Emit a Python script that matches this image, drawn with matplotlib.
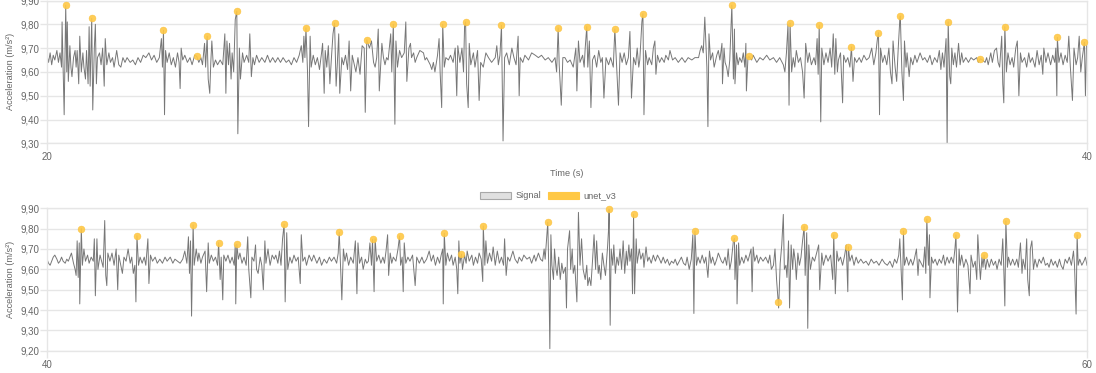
import matplotlib.pyplot as plt
from matplotlib.patches import Patch
from matplotlib.ticker import FuncFormatter, FixedLocator

plt.rcParams['font.family'] = ['Liberation Sans', 'DejaVu Sans']

# signal samples, (time s, acceleration m/s²)
top_signal = [
    (20.00, 9.67), (20.03, 9.64), (20.06, 9.68), (20.09, 9.63), (20.12, 9.67), (20.15, 9.65),
    (20.19, 9.69), (20.22, 9.64), (20.25, 9.68), (20.28, 9.62), (20.29, 9.81), (20.31, 9.62),
    (20.33, 9.42), (20.36, 9.88), (20.38, 9.60), (20.39, 9.81), (20.41, 9.56), (20.44, 9.71),
    (20.46, 9.62), (20.48, 9.58), (20.51, 9.66), (20.54, 9.69), (20.56, 9.62), (20.58, 9.69),
    (20.61, 9.55), (20.63, 9.75), (20.66, 9.60), (20.69, 9.68), (20.71, 9.62), (20.74, 9.57),
    (20.76, 9.69), (20.79, 9.55), (20.81, 9.79), (20.83, 9.54), (20.86, 9.825), (20.88, 9.44),
    (20.91, 9.70), (20.93, 9.80), (20.95, 9.55), (20.97, 9.66), (21.01, 9.68), (21.04, 9.63),
    (21.07, 9.70), (21.10, 9.54), (21.12, 9.74), (21.15, 9.63), (21.19, 9.68), (21.22, 9.64),
    (21.26, 9.66), (21.29, 9.62), (21.34, 9.69), (21.38, 9.63), (21.42, 9.62), (21.46, 9.66),
    (21.50, 9.64), (21.54, 9.66), (21.60, 9.64), (21.65, 9.65), (21.70, 9.63), (21.75, 9.66),
    (21.80, 9.64), (21.85, 9.67), (21.90, 9.66), (21.96, 9.68), (22.01, 9.65), (22.06, 9.67),
    (22.11, 9.64), (22.16, 9.66), (22.20, 9.74), (22.22, 9.62), (22.24, 9.775), (22.26, 9.42),
    (22.28, 9.69), (22.31, 9.64), (22.35, 9.68), (22.39, 9.63), (22.43, 9.66), (22.47, 9.62),
    (22.51, 9.68), (22.54, 9.64), (22.56, 9.53), (22.58, 9.70), (22.61, 9.65), (22.65, 9.67),
    (22.70, 9.64), (22.75, 9.66), (22.79, 9.63), (22.84, 9.67), (22.88, 9.665), (22.92, 9.64),
    (22.96, 9.66), (22.99, 9.63), (23.03, 9.72), (23.05, 9.62), (23.08, 9.75), (23.10, 9.57),
    (23.13, 9.51), (23.15, 9.64), (23.17, 9.73), (23.20, 9.62), (23.24, 9.65), (23.28, 9.63),
    (23.33, 9.65), (23.38, 9.63), (23.42, 9.76), (23.44, 9.51), (23.46, 9.73), (23.49, 9.63),
    (23.51, 9.72), (23.54, 9.57), (23.56, 9.68), (23.59, 9.60), (23.62, 9.82), (23.65, 9.855),
    (23.67, 9.34), (23.70, 9.70), (23.72, 9.57), (23.76, 9.68), (23.79, 9.64), (23.84, 9.67),
    (23.88, 9.64), (23.90, 9.76), (23.93, 9.58), (23.96, 9.66), (23.99, 9.63), (24.03, 9.67),
    (24.08, 9.64), (24.13, 9.66), (24.19, 9.64), (24.24, 9.67), (24.29, 9.64), (24.34, 9.66),
    (24.39, 9.64), (24.44, 9.66), (24.49, 9.64), (24.54, 9.66), (24.60, 9.64), (24.65, 9.65),
    (24.70, 9.63), (24.75, 9.66), (24.80, 9.64), (24.85, 9.67), (24.89, 9.71), (24.92, 9.64),
    (24.94, 9.75), (24.96, 9.66), (24.98, 9.785), (25.01, 9.60), (25.03, 9.37), (25.06, 9.75),
    (25.08, 9.62), (25.12, 9.67), (25.16, 9.63), (25.20, 9.66), (25.24, 9.61), (25.28, 9.68),
    (25.30, 9.72), (25.33, 9.51), (25.35, 9.69), (25.38, 9.62), (25.41, 9.71), (25.44, 9.55),
    (25.47, 9.66), (25.50, 9.76), (25.53, 9.805), (25.56, 9.54), (25.58, 9.62), (25.61, 9.76),
    (25.63, 9.51), (25.67, 9.66), (25.70, 9.63), (25.74, 9.67), (25.78, 9.61), (25.81, 9.73),
    (25.84, 9.52), (25.87, 9.67), (25.91, 9.63), (25.94, 9.60), (25.98, 9.66), (26.02, 9.59),
    (26.06, 9.71), (26.10, 9.70), (26.12, 9.43), (26.15, 9.735), (26.20, 9.70), (26.24, 9.73),
    (26.28, 9.64), (26.31, 9.62), (26.34, 9.66), (26.37, 9.78), (26.39, 9.52), (26.42, 9.64),
    (26.44, 9.72), (26.47, 9.66), (26.50, 9.63), (26.53, 9.66), (26.56, 9.65), (26.61, 9.76),
    (26.63, 9.60), (26.66, 9.80), (26.69, 9.38), (26.71, 9.73), (26.74, 9.62), (26.78, 9.69),
    (26.82, 9.66), (26.87, 9.68), (26.90, 9.81), (26.92, 9.56), (26.96, 9.70), (26.99, 9.72),
    (27.01, 9.66), (27.05, 9.68), (27.08, 9.64), (27.11, 9.66), (27.17, 9.69), (27.24, 9.68),
    (27.27, 9.65), (27.30, 9.66), (27.37, 9.63), (27.40, 9.61), (27.43, 9.64), (27.46, 9.60),
    (27.51, 9.67), (27.54, 9.74), (27.56, 9.60), (27.59, 9.45), (27.61, 9.80), (27.64, 9.62),
    (27.67, 9.66), (27.72, 9.65), (27.76, 9.67), (27.81, 9.64), (27.85, 9.70), (27.88, 9.50),
    (27.90, 9.71), (27.94, 9.64), (27.98, 9.70), (28.01, 9.60), (28.03, 9.79), (28.05, 9.81),
    (28.07, 9.55), (28.10, 9.45), (28.12, 9.72), (28.15, 9.63), (28.20, 9.68), (28.23, 9.62),
    (28.28, 9.69), (28.31, 9.48), (28.34, 9.64), (28.39, 9.62), (28.44, 9.68), (28.49, 9.66),
    (28.55, 9.64), (28.62, 9.66), (28.65, 9.71), (28.68, 9.63), (28.71, 9.67), (28.74, 9.795),
    (28.77, 9.31), (28.80, 9.66), (28.84, 9.68), (28.89, 9.63), (28.94, 9.70), (28.98, 9.66),
    (29.02, 9.63), (29.06, 9.75), (29.08, 9.50), (29.10, 9.66), (29.15, 9.64), (29.19, 9.67),
    (29.26, 9.65), (29.32, 9.68), (29.39, 9.67), (29.45, 9.66), (29.51, 9.67), (29.58, 9.65),
    (29.64, 9.66), (29.71, 9.64), (29.77, 9.66), (29.80, 9.60), (29.83, 9.785), (29.85, 9.63),
    (29.89, 9.46), (29.92, 9.66), (29.96, 9.66), (30.01, 9.64), (30.06, 9.65), (30.12, 9.62),
    (30.17, 9.70), (30.19, 9.52), (30.22, 9.73), (30.25, 9.64), (30.30, 9.67), (30.33, 9.62),
    (30.35, 9.70), (30.38, 9.79), (30.40, 9.62), (30.43, 9.73), (30.46, 9.45), (30.49, 9.65),
    (30.53, 9.67), (30.57, 9.62), (30.61, 9.69), (30.65, 9.64), (30.68, 9.66), (30.71, 9.49),
    (30.75, 9.66), (30.80, 9.63), (30.84, 9.66), (30.89, 9.62), (30.92, 9.78), (30.96, 9.60),
    (30.99, 9.46), (31.02, 9.68), (31.06, 9.64), (31.10, 9.68), (31.14, 9.63), (31.18, 9.66),
    (31.21, 9.77), (31.24, 9.49), (31.28, 9.66), (31.32, 9.63), (31.35, 9.70), (31.38, 9.62),
    (31.40, 9.65), (31.44, 9.81), (31.46, 9.845), (31.48, 9.42), (31.51, 9.69), (31.55, 9.63),
    (31.58, 9.66), (31.63, 9.63), (31.66, 9.70), (31.69, 9.73), (31.71, 9.59), (31.74, 9.67),
    (31.78, 9.64), (31.82, 9.66), (31.87, 9.64), (31.90, 9.67), (31.95, 9.65), (31.98, 9.69),
    (32.03, 9.65), (32.08, 9.66), (32.14, 9.64), (32.21, 9.66), (32.27, 9.64), (32.33, 9.66),
    (32.40, 9.65), (32.46, 9.66), (32.53, 9.66), (32.56, 9.69), (32.59, 9.71), (32.62, 9.68),
    (32.65, 9.83), (32.69, 9.62), (32.71, 9.37), (32.73, 9.76), (32.76, 9.65), (32.80, 9.68),
    (32.83, 9.62), (32.88, 9.67), (32.91, 9.69), (32.94, 9.65), (32.98, 9.72), (32.99, 9.55),
    (33.02, 9.70), (33.04, 9.64), (33.07, 9.62), (33.10, 9.58), (33.13, 9.65), (33.17, 9.88),
    (33.20, 9.57), (33.22, 9.78), (33.23, 9.55), (33.26, 9.68), (33.29, 9.63), (33.32, 9.66),
    (33.36, 9.64), (33.39, 9.68), (33.42, 9.62), (33.44, 9.72), (33.45, 9.52), (33.48, 9.66),
    (33.50, 9.665), (33.55, 9.65), (33.58, 9.67), (33.65, 9.64), (33.71, 9.66), (33.77, 9.65),
    (33.84, 9.67), (33.90, 9.65), (33.97, 9.66), (34.03, 9.64), (34.09, 9.66), (34.16, 9.63),
    (34.19, 9.60), (34.22, 9.68), (34.25, 9.80), (34.27, 9.46), (34.29, 9.805), (34.32, 9.60),
    (34.35, 9.66), (34.38, 9.62), (34.41, 9.69), (34.45, 9.64), (34.49, 9.66), (34.53, 9.60),
    (34.56, 9.49), (34.59, 9.72), (34.63, 9.64), (34.66, 9.68), (34.70, 9.63), (34.75, 9.66),
    (34.78, 9.63), (34.81, 9.74), (34.83, 9.59), (34.85, 9.795), (34.88, 9.39), (34.90, 9.70),
    (34.94, 9.63), (34.98, 9.68), (35.02, 9.64), (35.06, 9.70), (35.09, 9.62), (35.12, 9.76),
    (35.15, 9.59), (35.17, 9.74), (35.20, 9.60), (35.22, 9.65), (35.26, 9.68), (35.30, 9.47),
    (35.32, 9.67), (35.36, 9.64), (35.40, 9.66), (35.44, 9.62), (35.47, 9.705), (35.50, 9.56),
    (35.53, 9.66), (35.57, 9.64), (35.62, 9.66), (35.66, 9.64), (35.71, 9.67), (35.76, 9.65),
    (35.81, 9.66), (35.86, 9.70), (35.90, 9.63), (35.94, 9.68), (35.97, 9.74), (35.99, 9.765),
    (36.01, 9.42), (36.03, 9.70), (36.07, 9.64), (36.11, 9.67), (36.15, 9.63), (36.19, 9.70),
    (36.22, 9.60), (36.25, 9.55), (36.27, 9.73), (36.31, 9.62), (36.34, 9.56), (36.37, 9.70),
    (36.40, 9.82), (36.41, 9.835), (36.44, 9.60), (36.47, 9.48), (36.49, 9.73), (36.52, 9.62),
    (36.54, 9.68), (36.58, 9.58), (36.61, 9.66), (36.65, 9.63), (36.69, 9.67), (36.73, 9.64),
    (36.79, 9.68), (36.84, 9.65), (36.88, 9.66), (36.93, 9.64), (36.98, 9.67), (37.02, 9.63),
    (37.07, 9.66), (37.12, 9.64), (37.16, 9.69), (37.19, 9.61), (37.22, 9.68), (37.25, 9.62),
    (37.29, 9.74), (37.31, 9.30), (37.33, 9.81), (37.36, 9.58), (37.38, 9.55), (37.40, 9.70),
    (37.43, 9.63), (37.46, 9.68), (37.49, 9.62), (37.53, 9.72), (37.56, 9.63), (37.59, 9.68),
    (37.62, 9.64), (37.67, 9.66), (37.72, 9.64), (37.77, 9.66), (37.82, 9.65), (37.88, 9.66),
    (37.91, 9.64), (37.95, 9.655), (37.99, 9.65), (38.04, 9.64), (38.07, 9.66), (38.10, 9.63),
    (38.15, 9.68), (38.18, 9.64), (38.22, 9.69), (38.26, 9.70), (38.29, 9.64), (38.32, 9.62),
    (38.36, 9.75), (38.38, 9.55), (38.40, 9.47), (38.42, 9.79), (38.45, 9.60), (38.48, 9.68),
    (38.52, 9.63), (38.56, 9.66), (38.59, 9.62), (38.63, 9.70), (38.66, 9.73), (38.69, 9.50),
    (38.72, 9.68), (38.75, 9.64), (38.80, 9.66), (38.84, 9.62), (38.88, 9.68), (38.91, 9.64),
    (38.95, 9.66), (39.00, 9.62), (39.04, 9.69), (39.08, 9.63), (39.12, 9.67), (39.15, 9.59),
    (39.17, 9.70), (39.21, 9.64), (39.25, 9.68), (39.30, 9.63), (39.34, 9.67), (39.38, 9.64),
    (39.40, 9.70), (39.42, 9.50), (39.43, 9.745), (39.46, 9.64), (39.50, 9.68), (39.54, 9.63),
    (39.58, 9.67), (39.62, 9.64), (39.65, 9.75), (39.68, 9.62), (39.72, 9.48), (39.75, 9.70),
    (39.79, 9.63), (39.82, 9.66), (39.85, 9.75), (39.88, 9.60), (39.91, 9.66), (39.95, 9.725),
    (39.97, 9.50), (39.99, 9.71),
]

bottom_signal = [
    (40.00, 9.65), (40.03, 9.63), (40.06, 9.62), (40.09, 9.64), (40.12, 9.66), (40.15, 9.67),
    (40.19, 9.65), (40.22, 9.63), (40.25, 9.64), (40.28, 9.66), (40.31, 9.64), (40.35, 9.63),
    (40.38, 9.65), (40.41, 9.64), (40.44, 9.66), (40.47, 9.68), (40.51, 9.63), (40.54, 9.60),
    (40.56, 9.57), (40.58, 9.74), (40.60, 9.56), (40.62, 9.73), (40.63, 9.43), (40.66, 9.80),
    (40.68, 9.62), (40.71, 9.70), (40.74, 9.64), (40.78, 9.67), (40.81, 9.63), (40.85, 9.66),
    (40.89, 9.64), (40.91, 9.75), (40.93, 9.47), (40.96, 9.75), (40.98, 9.60), (41.02, 9.67),
    (41.06, 9.63), (41.08, 9.61), (41.11, 9.84), (41.13, 9.57), (41.15, 9.52), (41.17, 9.68),
    (41.21, 9.64), (41.25, 9.68), (41.29, 9.62), (41.33, 9.70), (41.36, 9.50), (41.38, 9.67),
    (41.42, 9.62), (41.45, 9.58), (41.48, 9.66), (41.52, 9.64), (41.56, 9.70), (41.60, 9.63),
    (41.63, 9.66), (41.66, 9.58), (41.69, 9.62), (41.71, 9.44), (41.73, 9.765), (41.76, 9.62),
    (41.79, 9.66), (41.83, 9.63), (41.87, 9.66), (41.90, 9.62), (41.94, 9.75), (41.96, 9.53),
    (41.99, 9.67), (42.03, 9.64), (42.08, 9.66), (42.12, 9.63), (42.17, 9.65), (42.22, 9.63),
    (42.27, 9.66), (42.31, 9.64), (42.37, 9.66), (42.42, 9.63), (42.46, 9.65), (42.51, 9.64),
    (42.56, 9.63), (42.61, 9.65), (42.65, 9.69), (42.69, 9.63), (42.72, 9.76), (42.74, 9.58),
    (42.76, 9.74), (42.78, 9.37), (42.81, 9.818), (42.83, 9.62), (42.87, 9.70), (42.90, 9.64),
    (42.92, 9.68), (42.96, 9.63), (42.99, 9.66), (43.04, 9.69), (43.07, 9.49), (43.10, 9.73),
    (43.12, 9.63), (43.16, 9.67), (43.20, 9.64), (43.24, 9.66), (43.28, 9.62), (43.30, 9.731),
    (43.33, 9.55), (43.35, 9.66), (43.38, 9.45), (43.40, 9.67), (43.44, 9.64), (43.48, 9.67),
    (43.52, 9.63), (43.56, 9.66), (43.60, 9.62), (43.62, 9.72), (43.63, 9.43), (43.65, 9.723),
    (43.68, 9.65), (43.71, 9.68), (43.75, 9.63), (43.79, 9.66), (43.83, 9.62), (43.86, 9.76),
    (43.88, 9.60), (43.92, 9.46), (43.94, 9.66), (43.98, 9.64), (44.01, 9.72), (44.03, 9.60),
    (44.06, 9.58), (44.10, 9.66), (44.13, 9.62), (44.16, 9.50), (44.19, 9.74), (44.21, 9.63),
    (44.25, 9.70), (44.29, 9.62), (44.33, 9.67), (44.37, 9.65), (44.40, 9.67), (44.44, 9.63),
    (44.47, 9.69), (44.50, 9.62), (44.53, 9.75), (44.56, 9.821), (44.58, 9.44), (44.61, 9.78),
    (44.63, 9.60), (44.67, 9.66), (44.71, 9.63), (44.75, 9.67), (44.79, 9.64), (44.83, 9.66),
    (44.87, 9.53), (44.89, 9.77), (44.92, 9.64), (44.96, 9.66), (44.99, 9.62), (45.04, 9.67),
    (45.09, 9.64), (45.13, 9.67), (45.19, 9.63), (45.24, 9.66), (45.28, 9.62), (45.33, 9.65),
    (45.38, 9.63), (45.43, 9.66), (45.47, 9.64), (45.52, 9.66), (45.57, 9.63), (45.60, 9.68),
    (45.62, 9.782), (45.65, 9.59), (45.67, 9.45), (45.70, 9.70), (45.73, 9.64), (45.76, 9.68),
    (45.80, 9.62), (45.84, 9.66), (45.89, 9.63), (45.93, 9.74), (45.96, 9.48), (45.98, 9.73),
    (46.01, 9.63), (46.05, 9.66), (46.08, 9.60), (46.12, 9.65), (46.15, 9.63), (46.18, 9.64),
    (46.21, 9.73), (46.24, 9.62), (46.26, 9.747), (46.29, 9.49), (46.31, 9.75), (46.34, 9.64),
    (46.38, 9.67), (46.42, 9.63), (46.46, 9.66), (46.49, 9.63), (46.52, 9.69), (46.55, 9.77),
    (46.57, 9.57), (46.60, 9.68), (46.63, 9.63), (46.66, 9.66), (46.71, 9.64), (46.75, 9.70),
    (46.78, 9.764), (46.80, 9.62), (46.83, 9.66), (46.85, 9.49), (46.87, 9.73), (46.90, 9.63),
    (46.94, 9.66), (46.98, 9.64), (47.03, 9.67), (47.08, 9.52), (47.11, 9.66), (47.16, 9.63),
    (47.21, 9.66), (47.25, 9.63), (47.30, 9.65), (47.35, 9.69), (47.39, 9.64), (47.43, 9.67),
    (47.47, 9.62), (47.51, 9.66), (47.55, 9.63), (47.58, 9.67), (47.61, 9.70), (47.62, 9.43),
    (47.64, 9.777), (47.67, 9.62), (47.70, 9.68), (47.74, 9.64), (47.78, 9.67), (47.81, 9.62),
    (47.85, 9.66), (47.88, 9.60), (47.90, 9.48), (47.92, 9.74), (47.94, 9.63), (47.97, 9.675),
    (47.99, 9.60), (48.03, 9.67), (48.06, 9.63), (48.08, 9.69), (48.12, 9.64), (48.17, 9.67),
    (48.20, 9.62), (48.24, 9.66), (48.28, 9.63), (48.31, 9.68), (48.35, 9.65), (48.38, 9.54),
    (48.39, 9.813), (48.42, 9.62), (48.44, 9.74), (48.47, 9.63), (48.51, 9.68), (48.55, 9.64),
    (48.58, 9.71), (48.62, 9.62), (48.66, 9.69), (48.70, 9.63), (48.74, 9.66), (48.78, 9.62),
    (48.80, 9.75), (48.83, 9.57), (48.86, 9.66), (48.90, 9.64), (48.96, 9.69), (49.00, 9.65),
    (49.05, 9.63), (49.08, 9.66), (49.13, 9.64), (49.17, 9.67), (49.23, 9.65), (49.28, 9.66),
    (49.32, 9.63), (49.37, 9.67), (49.40, 9.64), (49.45, 9.68), (49.49, 9.65), (49.53, 9.64),
    (49.56, 9.70), (49.58, 9.65), (49.61, 9.76), (49.63, 9.831), (49.65, 9.60), (49.67, 9.21),
    (49.69, 9.77), (49.71, 9.62), (49.74, 9.55), (49.76, 9.70), (49.79, 9.60), (49.81, 9.57),
    (49.84, 9.66), (49.87, 9.55), (49.90, 9.63), (49.93, 9.58), (49.97, 9.61), (49.99, 9.41),
    (50.01, 9.70), (50.05, 9.79), (50.07, 9.60), (50.10, 9.70), (50.12, 9.58), (50.15, 9.62),
    (50.19, 9.44), (50.22, 9.88), (50.25, 9.62), (50.28, 9.75), (50.31, 9.60), (50.35, 9.55),
    (50.38, 9.62), (50.40, 9.52), (50.43, 9.56), (50.46, 9.52), (50.49, 9.64), (50.52, 9.77),
    (50.55, 9.60), (50.57, 9.74), (50.60, 9.58), (50.62, 9.62), (50.65, 9.55), (50.68, 9.68),
    (50.71, 9.62), (50.74, 9.57), (50.78, 9.71), (50.80, 9.80), (50.81, 9.897), (50.83, 9.325),
    (50.85, 9.70), (50.88, 9.62), (50.90, 9.72), (50.93, 9.58), (50.96, 9.66), (50.99, 9.62),
    (51.02, 9.70), (51.05, 9.60), (51.08, 9.74), (51.11, 9.58), (51.14, 9.69), (51.16, 9.62),
    (51.19, 9.72), (51.21, 9.64), (51.24, 9.70), (51.26, 9.48), (51.28, 9.870), (51.30, 9.48),
    (51.33, 9.75), (51.35, 9.63), (51.39, 9.70), (51.42, 9.65), (51.46, 9.68), (51.48, 9.61),
    (51.52, 9.71), (51.55, 9.64), (51.58, 9.66), (51.62, 9.63), (51.66, 9.67), (51.70, 9.64),
    (51.74, 9.67), (51.78, 9.65), (51.81, 9.63), (51.85, 9.66), (51.89, 9.63), (51.93, 9.65),
    (51.97, 9.62), (52.01, 9.64), (52.05, 9.63), (52.08, 9.65), (52.12, 9.62), (52.16, 9.64),
    (52.20, 9.66), (52.24, 9.63), (52.28, 9.62), (52.31, 9.66), (52.35, 9.60), (52.39, 9.65),
    (52.42, 9.77), (52.44, 9.383), (52.46, 9.788), (52.49, 9.62), (52.52, 9.66), (52.56, 9.63),
    (52.60, 9.67), (52.64, 9.63), (52.67, 9.66), (52.71, 9.56), (52.74, 9.69), (52.77, 9.63),
    (52.80, 9.66), (52.84, 9.62), (52.88, 9.65), (52.91, 9.68), (52.97, 9.64), (53.00, 9.63),
    (53.04, 9.66), (53.07, 9.62), (53.10, 9.70), (53.13, 9.60), (53.16, 9.64), (53.20, 9.74),
    (53.22, 9.752), (53.23, 9.55), (53.26, 9.72), (53.27, 9.43), (53.30, 9.73), (53.32, 9.62),
    (53.36, 9.66), (53.40, 9.63), (53.44, 9.67), (53.48, 9.64), (53.52, 9.68), (53.54, 9.70),
    (53.56, 9.49), (53.58, 9.71), (53.61, 9.64), (53.65, 9.67), (53.68, 9.63), (53.72, 9.66),
    (53.77, 9.64), (53.82, 9.66), (53.87, 9.63), (53.90, 9.67), (53.93, 9.60), (53.97, 9.62),
    (54.00, 9.70), (54.03, 9.55), (54.06, 9.44), (54.07, 9.41), (54.10, 9.63), (54.13, 9.72),
    (54.16, 9.87), (54.18, 9.60), (54.21, 9.62), (54.23, 9.56), (54.26, 9.74), (54.28, 9.41),
    (54.31, 9.72), (54.34, 9.60), (54.36, 9.70), (54.39, 9.64), (54.41, 9.55), (54.44, 9.68),
    (54.47, 9.62), (54.50, 9.66), (54.53, 9.74), (54.56, 9.81), (54.58, 9.57), (54.61, 9.78),
    (54.63, 9.31), (54.65, 9.72), (54.68, 9.60), (54.72, 9.66), (54.76, 9.64), (54.80, 9.68),
    (54.84, 9.72), (54.86, 9.50), (54.90, 9.68), (54.93, 9.62), (54.98, 9.67), (55.02, 9.64),
    (55.07, 9.67), (55.11, 9.55), (55.13, 9.769), (55.16, 9.48), (55.19, 9.69), (55.22, 9.64),
    (55.26, 9.66), (55.30, 9.62), (55.34, 9.67), (55.37, 9.72), (55.40, 9.49), (55.41, 9.711),
    (55.44, 9.64), (55.48, 9.67), (55.52, 9.62), (55.56, 9.66), (55.60, 9.63), (55.65, 9.65),
    (55.70, 9.63), (55.75, 9.64), (55.80, 9.62), (55.85, 9.65), (55.90, 9.63), (55.95, 9.64),
    (56.00, 9.62), (56.06, 9.65), (56.11, 9.63), (56.16, 9.62), (56.21, 9.64), (56.26, 9.61),
    (56.30, 9.65), (56.34, 9.63), (56.38, 9.67), (56.40, 9.75), (56.43, 9.57), (56.45, 9.45),
    (56.47, 9.788), (56.49, 9.62), (56.53, 9.66), (56.57, 9.62), (56.61, 9.65), (56.65, 9.62),
    (56.68, 9.65), (56.72, 9.70), (56.75, 9.57), (56.77, 9.65), (56.81, 9.63), (56.85, 9.61),
    (56.88, 9.71), (56.90, 9.58), (56.92, 9.847), (56.95, 9.62), (56.97, 9.77), (56.98, 9.46),
    (57.01, 9.66), (57.04, 9.63), (57.08, 9.65), (57.12, 9.62), (57.16, 9.65), (57.20, 9.63),
    (57.24, 9.67), (57.27, 9.62), (57.31, 9.66), (57.35, 9.63), (57.39, 9.66), (57.43, 9.63),
    (57.46, 9.70), (57.48, 9.769), (57.51, 9.39), (57.54, 9.70), (57.56, 9.62), (57.59, 9.67),
    (57.63, 9.61), (57.67, 9.65), (57.71, 9.62), (57.75, 9.48), (57.77, 9.67), (57.81, 9.61),
    (57.85, 9.64), (57.88, 9.55), (57.90, 9.77), (57.93, 9.63), (57.95, 9.55), (57.98, 9.66),
    (58.00, 9.61), (58.02, 9.67), (58.05, 9.60), (58.08, 9.65), (58.12, 9.61), (58.16, 9.65),
    (58.20, 9.62), (58.24, 9.64), (58.27, 9.60), (58.31, 9.65), (58.35, 9.62), (58.38, 9.75),
    (58.40, 9.60), (58.42, 9.42), (58.44, 9.838), (58.47, 9.61), (58.49, 9.66), (58.53, 9.62),
    (58.57, 9.65), (58.61, 9.62), (58.65, 9.65), (58.68, 9.61), (58.72, 9.73), (58.75, 9.58),
    (58.77, 9.65), (58.81, 9.60), (58.84, 9.75), (58.86, 9.55), (58.89, 9.47), (58.91, 9.70),
    (58.94, 9.74), (58.97, 9.60), (59.00, 9.65), (59.04, 9.61), (59.08, 9.65), (59.12, 9.63),
    (59.16, 9.66), (59.20, 9.62), (59.24, 9.63), (59.27, 9.61), (59.31, 9.65), (59.35, 9.62),
    (59.39, 9.64), (59.43, 9.61), (59.47, 9.65), (59.50, 9.62), (59.54, 9.60), (59.58, 9.65),
    (59.62, 9.63), (59.66, 9.66), (59.70, 9.62), (59.74, 9.69), (59.76, 9.62), (59.79, 9.38),
    (59.81, 9.769), (59.83, 9.62), (59.86, 9.65), (59.90, 9.62), (59.94, 9.64), (59.97, 9.66),
    (60.00, 9.62),
]

# unet_v3 detections
top_peak_time = [20.36, 20.86, 22.24, 22.88, 23.08, 23.65, 24.98, 25.53, 26.15, 26.66,
                 27.61, 28.05, 28.74, 29.83, 30.38, 30.92, 31.46, 33.17, 33.50, 34.29,
                 34.85, 35.47, 35.99, 36.41, 37.33, 37.95, 38.42, 39.43, 39.95]
top_peak_value = [9.88, 9.825, 9.775, 9.665, 9.75, 9.855, 9.785, 9.805, 9.735, 9.80,
                  9.80, 9.81, 9.795, 9.785, 9.79, 9.78, 9.845, 9.88, 9.665, 9.805,
                  9.795, 9.705, 9.765, 9.835, 9.81, 9.655, 9.79, 9.745, 9.725]
bottom_peak_time = [40.66, 41.73, 42.81, 43.30, 43.65, 44.56, 45.62, 46.26, 46.78, 47.64,
                    47.97, 48.39, 49.63, 50.81, 51.28, 52.46, 53.22, 54.06, 54.56, 55.13,
                    55.41, 56.47, 56.92, 57.48, 58.02, 58.44, 59.81]
bottom_peak_value = [9.80, 9.765, 9.818, 9.731, 9.723, 9.821, 9.782, 9.747, 9.764, 9.777,
                     9.675, 9.813, 9.831, 9.897, 9.870, 9.788, 9.752, 9.44, 9.81, 9.769,
                     9.711, 9.788, 9.847, 9.769, 9.67, 9.838, 9.769]

TEXT = '#666666'
GRID = '#e6e6e6'
LINE = '#777777'
PEAK = '#ffc845'

W, H = 1096, 373
fig = plt.figure(figsize=(W / 100, H / 100), dpi=100)


def draw_panel(ax, signal, peak_t, peak_v, xlim, ylim):
    t, v = zip(*signal)
    ax.plot(t, v, color=LINE, lw=0.7, zorder=2)
    ax.scatter(peak_t, peak_v, s=24, color=PEAK, edgecolors='#f9c03c',
               linewidths=0.4, alpha=0.9, zorder=3, clip_on=False)
    ax.set_xlim(*xlim)
    ax.set_ylim(*ylim)
    ax.xaxis.set_major_locator(FixedLocator(list(xlim)))
    ax.xaxis.set_major_formatter(FuncFormatter(lambda x, p: f'{x:.0f}'))
    n = int(round((ylim[1] - ylim[0]) / 0.1))
    ax.yaxis.set_major_locator(FixedLocator([ylim[0] + 0.1 * i for i in range(n + 1)]))
    ax.yaxis.set_major_formatter(FuncFormatter(lambda y, p: f'{y:.2f}'.replace('.', ',')))
    ax.grid(axis='y', color=GRID, lw=1, zorder=0)
    for s in ax.spines.values():
        s.set_color(GRID)
        s.set_linewidth(1)
    ax.tick_params(axis='both', color=GRID, labelcolor=TEXT, labelsize=7,
                   length=5, width=1)
    ax.tick_params(axis='x', pad=1.5)
    ax.tick_params(axis='y', pad=0.5)
    ax.set_ylabel('Acceleration (m/s²)', fontsize=6.6, color=TEXT)
    ax.yaxis.set_label_coords(-0.0308, 0.5)


ax_top = fig.add_axes([47 / W, 1 - 143.3 / H, 1040 / W, 142.8 / H])
draw_panel(ax_top, top_signal, top_peak_time, top_peak_value, (20, 40), (9.30, 9.90))

ax_bot = fig.add_axes([47 / W, 1 - 350.7 / H, 1040 / W, 142.4 / H])
draw_panel(ax_bot, bottom_signal, bottom_peak_time, bottom_peak_value, (40, 60), (9.20, 9.90))

fig.text(567 / W, 1 - 173 / H, 'Time (s)', ha='center', va='center', fontsize=6.6, color=TEXT)

handles = [Patch(facecolor='#e0e0e0', edgecolor='#a8a8a8', lw=0.8, label='Signal'),
           Patch(facecolor=PEAK, edgecolor=PEAK, lw=0.8, label='unet_v3')]
fig.legend(handles=handles, loc='center', bbox_to_anchor=(548 / W, 1 - 196 / H),
           ncol=2, frameon=False, fontsize=6.6, labelcolor=TEXT,
           handlelength=3.4, handleheight=0.9, handletextpad=0.45, columnspacing=0.8)

fig.savefig('out.png', dpi=100)
